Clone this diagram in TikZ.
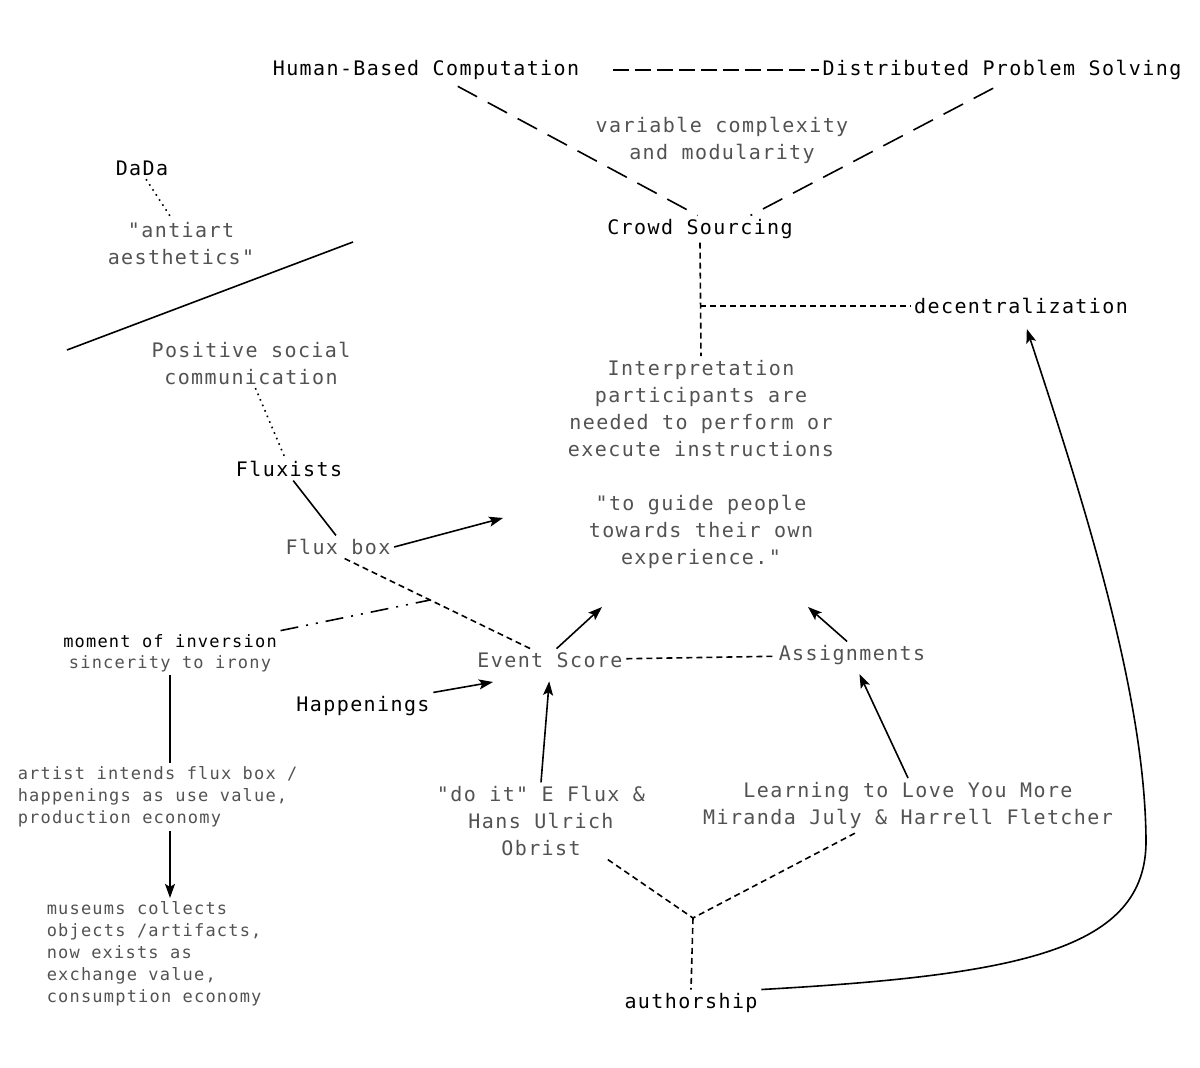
\documentclass[tikz,border=0pt]{standalone}
\usepackage{fontspec}
\setmainfont{DejaVu Sans Mono}[LetterSpace=7,Ligatures=TeXOff]
\usetikzlibrary{arrows.meta,calc,positioning}

\begin{document}
\begin{tikzpicture}[x=0.5pt,y=-0.5pt,line width=0.8pt,
    >={Stealth[length=7pt,width=5pt,inset=1.5pt]},
    every node/.style={inner sep=1.5pt,align=center,font=\fontsize{10}{13.5}\selectfont},
    dark/.style={text=black},
    grey/.style={text=black!68},
    small/.style={font=\fontsize{8.5}{11}\selectfont},
    topdash/.style={dash pattern=on 8pt off 3pt},
    longdash/.style={dash pattern=on 11pt off 6pt},
    shortdash/.style={dash pattern=on 3pt off 2pt},
    dots/.style={dash pattern=on 0.8pt off 2.2pt},
    dashdots/.style={dash pattern=on 9pt off 4pt on 1pt off 4pt on 1pt off 4pt}]
  \useasboundingbox (0,0) rectangle (1200,1068);

  % crowd sourcing side
  \node[dark] (hbc) at (426,70) {Human-Based Computation};
  \node[dark] (dps) at (1002,70) {Distributed Problem Solving};
  \node[grey] (vcm) at (722,140) {variable complexity\\and modularity};
  \node[dark] (crowd) at (700,229) {Crowd Sourcing};
  \node[dark] (decen) at (1021,306) {decentralization};
  \node[grey] (interp) at (701,464) {Interpretation\\participants are\\needed to perform or\\execute instructions\\[13.5pt]"to guide people\\towards their own\\experience."};

  % art history side
  \node[dark] (dada) at (142,168) {DaDa};
  \node[grey] (antiart) at (181,244) {"antiart\\aesthetics"};
  \node[grey] (positive) at (251,363) {Positive social\\communication};
  \node[dark] (fluxists) at (289,469) {Fluxists};
  \node[grey] (fluxbox) at (338,547) {Flux box};
  \node[dark,small] (moment) at (170,641) {moment of inversion};
  \node[grey,small,below=0pt of moment] (sincerity) {sincerity to irony};
  \node[grey,small,align=left,anchor=west] (artist) at (14,797) {artist intends flux box /\\happenings as use value,\\production economy};
  \node[grey,small,align=left,anchor=west] (museums) at (43,954) {museums collects\\objects /artifacts,\\now exists as\\exchange value,\\consumption economy};

  % scores and instructions
  \node[dark] (happenings) at (363,706) {Happenings};
  \node[grey] (event) at (550,660) {Event Score};
  \node[grey] (assign) at (852,655) {Assignments};
  \node[grey] (doit) at (541,821) {"do it" E Flux \&\\Hans Ulrich\\Obrist};
  \node[grey] (learning) at (908,805) {Learning to Love You More\\Miranda July \& Harrell Fletcher};
  \node[dark] (authorship) at (691,1003) {authorship};

  \coordinate (hub) at (crowd.south |- decen.west);
  \coordinate (junc) at (693,918);
  \coordinate (inv) at ($(fluxbox.-60)!0.46!(event.150)$);
  \coordinate (fbtip) at (503,518);
  \coordinate (hptip) at (493,682);
  \coordinate (evtip) at (602,607);
  \coordinate (astip) at (808,607);
  \coordinate (cutA) at (67,350);
  \coordinate (cutB) at (353,242);

  \draw[topdash,shorten <=15pt] (hbc.east) -- (dps.west);
  \draw[longdash,shorten <=3pt] (hbc.-27) -- (crowd.100);
  \draw[longdash,shorten <=5pt] (dps.south) -- (crowd.15);
  \draw[shortdash] (crowd.south) -- (interp.north);
  \draw[shortdash] (hub) -- (decen.west);

  \draw[dots] (dada.-70) -- (antiart.110);
  \draw (cutA) -- (cutB);
  \draw[dots] (positive.-80) -- (fluxists.110);
  \draw (fluxists.-70) -- (fluxbox.100);
  \draw[shortdash] (fluxbox.-60) -- (event.150);
  \draw[dashdots] (moment.north east) -- (inv);
  \draw (sincerity.south) -- (sincerity.south |- artist.north);
  \draw[->] (sincerity.south |- artist.south) -- (sincerity.south |- museums.north);

  \draw[shortdash] (event) -- (assign);
  \draw[shortdash] (doit.-30) -- (junc) -- (learning.208);
  \draw[shortdash] (junc) -- (authorship.north);

  \path[->] (fluxbox.east) edge (fbtip)
    (happenings.north east) edge (hptip)
    (event.60) edge (evtip)
    (assign.110) edge (astip)
    (doit.north) edge[shorten >=5pt] (event.south)
    (learning.north) edge[shorten >=3pt] (assign.-70);
  \draw[->,shorten >=6pt] (authorship.north east) .. controls (1020,975) and (1147,950) .. (1146,840)
    .. controls (1145,700) and (1090,520) .. (decen.-80);
\end{tikzpicture}
\end{document}
